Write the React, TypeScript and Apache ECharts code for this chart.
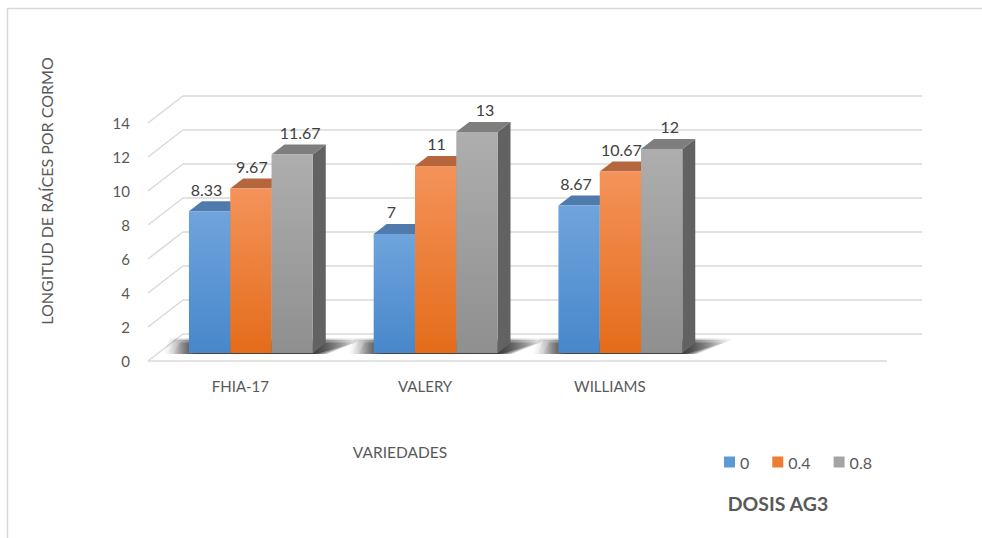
import React, { useEffect, useRef } from "react";
import * as echarts from "echarts";

const categories = ["FHIA-17", "VALERY", "WILLIAMS", ""];
const doseNames = ["0", "0.4", "0.8"];
const dose0 = [8.33, 7, 8.67];
const dose04 = [9.67, 11, 10.67];
const dose08 = [11.67, 13, 12];
const yTicks = [0, 2, 4, 6, 8, 10, 12, 14];

const FONT = 'Lato, "Open Sans", "DejaVu Sans", sans-serif';
const TXT = "#595959";
const DX = 35;
const DY = -27;
const FRONT = 0.3;
const BACK = 0.67;
const BAR_FRAC = 0.2235;
const LABEL_SHIFT = [-3, 1, 8];

const palettes = [
  { base: "#5B9BD5", top: "#6FA4DC", bottom: "#4787CB", cap: "#4F7BAC", side: "#3F6A9A" },
  { base: "#ED7D31", top: "#F4935A", bottom: "#E46C1A", cap: "#B5663C", side: "#B0561C" },
  { base: "#A5A5A5", top: "#AEAEAE", bottom: "#8F8F8F", cap: "#7E7E7E", side: "#626262" },
];

function barSeries(idx: number, name: string, values: number[]) {
  const pal = palettes[idx];
  return {
    type: "custom",
    name,
    itemStyle: { color: pal.base },
    data: values.map((v, i) => [i, v]),
    encode: { x: 0, y: 1 },
    renderItem: (params: any, api: any) => {
      const ci = api.value(0);
      const v = api.value(1);
      const base = api.coord([ci, 0]);
      const topP = api.coord([ci, v]);
      const band = api.size([1, 0])[0];
      const bw = band * BAR_FRAC;
      const x0 = base[0] - 1.5 * bw + idx * bw + FRONT * DX;
      const yb = base[1] + FRONT * DY;
      const yt = topP[1] + FRONT * DY;
      const ddx = (BACK - FRONT) * DX;
      const ddy = (BACK - FRONT) * DY;
      return {
        type: "group",
        children: [
          {
            type: "polygon",
            shape: { points: [[x0 + bw, yb], [x0 + bw + ddx, yb + ddy], [x0 + bw + ddx, yt + ddy], [x0 + bw, yt]] },
            style: { fill: pal.side },
          },
          {
            type: "polygon",
            shape: { points: [[x0, yt], [x0 + bw, yt], [x0 + bw + ddx, yt + ddy], [x0 + ddx, yt + ddy]] },
            style: { fill: pal.cap },
          },
          {
            type: "rect",
            shape: { x: x0, y: yt, width: bw, height: yb - yt },
            style: {
              fill: new echarts.graphic.LinearGradient(0, 0, 0, 1, [
                { offset: 0, color: pal.top },
                { offset: 1, color: pal.bottom },
              ]),
            },
          },
          {
            type: "text",
            x: x0 + bw / 2 + LABEL_SHIFT[idx],
            y: yt - 22,
            style: {
              text: String(v),
              fill: "#404040",
              font: `16px ${FONT}`,
              align: "center",
              verticalAlign: "middle",
            },
          },
        ],
      };
    },
  };
}

function shadowGradient(a: number) {
  return new echarts.graphic.LinearGradient(0, 0, 1, 0, [
    { offset: 0, color: "rgba(0,0,0,0)" },
    { offset: 0.14, color: `rgba(0,0,0,${a})` },
    { offset: 0.78, color: `rgba(0,0,0,${a})` },
    { offset: 1, color: "rgba(0,0,0,0)" },
  ]);
}

export default function App() {
  const ref = useRef<HTMLDivElement>(null);
  useEffect(() => {
    if (!ref.current) return;
    const chart = echarts.init(ref.current, undefined, { renderer: "svg" });
    const gridColor = "#d9d9d9";
    const option: any = {
      animation: false,
      backgroundColor: "#ffffff",
      textStyle: { fontFamily: FONT },
      grid: { left: 148, top: 123, width: 739, height: 238, containLabel: false },
      legend: {
        data: doseNames,
        left: 719,
        top: 449,
        icon: "rect",
        itemWidth: 11,
        itemHeight: 11,
        itemGap: 23,
        textStyle: { color: TXT, fontSize: 16, fontFamily: FONT },
      },
      xAxis: {
        type: "category",
        data: categories,
        axisLine: { show: false },
        axisTick: { show: false },
        axisLabel: { color: TXT, fontSize: 15, fontFamily: FONT, margin: 17 },
        splitLine: { show: false },
      },
      yAxis: {
        type: "value",
        min: 0,
        max: 14,
        interval: 2,
        axisLine: { show: false },
        axisTick: { show: false },
        splitLine: { show: false },
        axisLabel: { color: TXT, fontSize: 15, fontFamily: FONT, margin: 18 },
      },
      graphic: [
        {
          type: "rect",
          shape: { x: 7.5, y: 8.5, width: 1100, height: 700 },
          style: { fill: "none", stroke: gridColor, lineWidth: 1.5 },
          silent: true,
        },
        {
          type: "text",
          x: 46,
          y: 191,
          rotation: Math.PI / 2,
          style: {
            text: "LONGITUD DE RAÍCES POR CORMO",
            fill: TXT,
            font: `16px ${FONT}`,
            align: "center",
            verticalAlign: "middle",
          },
        },
        {
          type: "text",
          x: 400,
          y: 452,
          style: { text: "VARIEDADES", fill: TXT, font: `15.5px ${FONT}`, align: "center", verticalAlign: "middle" },
        },
        {
          type: "text",
          x: 778,
          y: 503,
          style: { text: "DOSIS AG3", fill: TXT, font: `bold 19.5px ${FONT}`, align: "center", verticalAlign: "middle" },
        },
      ],
      series: [
        {
          type: "custom",
          name: "grid3d",
          silent: true,
          data: yTicks.map((t) => [0, t]),
          encode: { x: 0, y: 1 },
          renderItem: (params: any, api: any) => {
            const cs = params.coordSys;
            const v = api.value(1);
            const y = api.coord([0, v])[1];
            const children: any[] = [
              {
                type: "line",
                shape: { x1: cs.x, y1: y, x2: cs.x + DX, y2: y + DY },
                style: { stroke: gridColor, lineWidth: 1.5 },
              },
              {
                type: "line",
                shape: { x1: cs.x + DX, y1: y + DY, x2: cs.x + cs.width + DX, y2: y + DY },
                style: { stroke: gridColor, lineWidth: 1.5 },
              },
            ];
            if (v === 0) {
              children.push({
                type: "line",
                shape: { x1: cs.x, y1: y, x2: cs.x + cs.width, y2: y },
                style: { stroke: gridColor, lineWidth: 1.5 },
              });
            }
            return { type: "group", children };
          },
        },
        {
          type: "custom",
          name: "shadow",
          silent: true,
          data: dose0.map((_, i) => [i, 0]),
          encode: { x: 0, y: 1 },
          renderItem: (params: any, api: any) => {
            const ci = api.value(0);
            const base = api.coord([ci, 0]);
            const band = api.size([1, 0])[0];
            const bw = band * BAR_FRAC;
            const xg0 = base[0] - 1.5 * bw + FRONT * DX;
            const xg1 = xg0 + 3 * bw;
            const yb = base[1] + FRONT * DY;
            const ddx = (BACK - FRONT) * DX;
            const ddy = (BACK - FRONT) * DY;
            const layer = (grow: number, a: number) => ({
              type: "polygon",
              shape: {
                points: [
                  [xg0 - 20 - grow, yb + 1],
                  [xg1 + 8 + grow, yb + 1],
                  [xg1 + ddx + 34 + grow, yb + ddy - 2 - grow * 0.4],
                  [xg0 + ddx - 26 - grow, yb + ddy - 2 - grow * 0.4],
                ],
              },
              style: { fill: shadowGradient(a) },
            });
            return {
              type: "group",
              children: [layer(6, 0.25), layer(2, 0.35), layer(-4, 0.45)],
            };
          },
        },
        barSeries(0, doseNames[0], dose0),
        barSeries(1, doseNames[1], dose04),
        barSeries(2, doseNames[2], dose08),
      ],
    };
    chart.setOption(option);
    return () => chart.dispose();
  }, []);
  return (
    <div
      ref={ref}
      style={{ position: "absolute", left: 0, top: 0, width: 982, height: 538 }}
    />
  );
}
